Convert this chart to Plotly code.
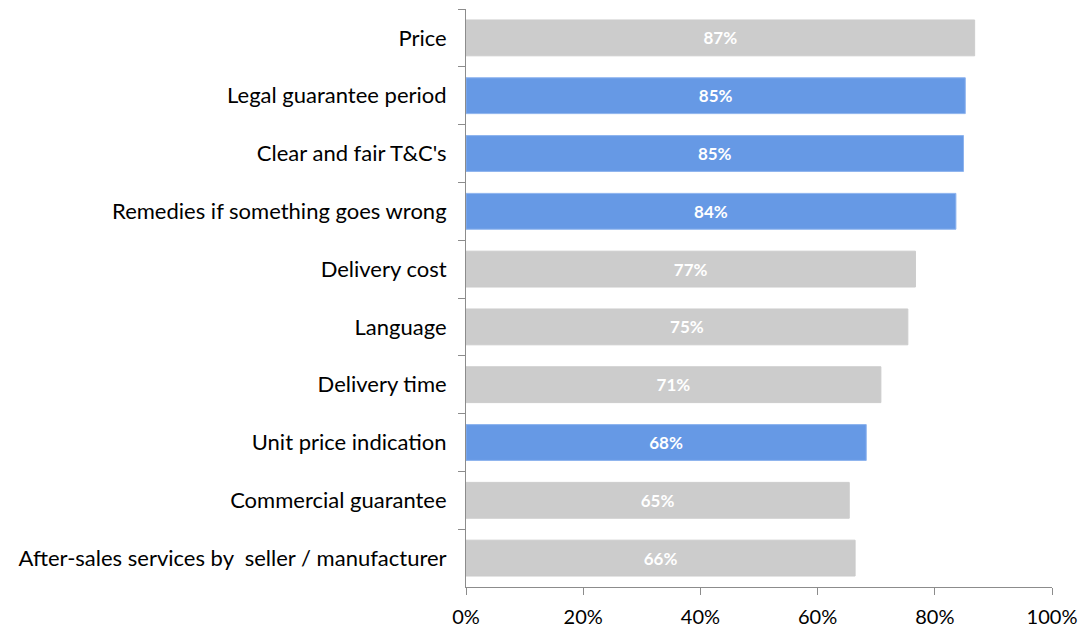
import plotly.graph_objects as go

categories = ["Price", "Legal guarantee period", "Clear and fair T&C's",
              "Remedies if something goes wrong", "Delivery cost", "Language",
              "Delivery time", "Unit price indication", "Commercial guarantee",
              "After-sales services by  seller / manufacturer"]
values = [0.868, 0.852, 0.849, 0.836, 0.767, 0.754, 0.708, 0.683, 0.654, 0.664]
highlight = [False, True, True, True, False, False, False, True, False, False]
x_ticks = [0, 0.2, 0.4, 0.6, 0.8, 1.0]
x_tick_labels = ["0%", "20%", "40%", "60%", "80%", "100%"]

GRAY = "#CCCCCC"
BLUE = "#6699E5"
colors = [BLUE if h else GRAY for h in highlight]
line_colors = ["#8DB3EE" if h else GRAY for h in highlight]

fig = go.Figure(go.Bar(
    x=values, y=categories, orientation="h",
    marker=dict(color=colors, line=dict(color=line_colors, width=1)),
    texttemplate="<b>%{x:.0%}</b>", textposition="inside",
    insidetextanchor="middle",
    textfont=dict(color="white", size=17, family="Lato"),
    width=0.62, hoverinfo="skip",
))

fig.update_layout(
    template="none",
    width=1084, height=628,
    margin=dict(l=466, r=32, t=9, b=41),
    plot_bgcolor="white", paper_bgcolor="white",
    font=dict(family="Lato", size=22, color="#000000"),
    showlegend=False,
)
fig.update_xaxes(
    automargin=False,
    range=[0, 1], tickvals=x_ticks, ticktext=x_tick_labels,
    showgrid=False, zeroline=False, showline=True, linecolor="#8C8C8C",
    linewidth=1, ticks="outside", ticklen=7, tickcolor="#8C8C8C",
    ticklabelstandoff=5, tickfont=dict(size=20),
)
fig.update_yaxes(
    automargin=False,
    categoryorder="array", categoryarray=categories, autorange="reversed",
    showgrid=False, zeroline=False, showline=True, linecolor="#8C8C8C",
    linewidth=1, ticks="outside", ticklen=7, tickcolor="#8C8C8C",
    tickson="boundaries", ticklabelstandoff=14, tickfont=dict(size=22),
)

fig.write_html("out.html", config={"displayModeBar": False},
               post_script="document.body.style.margin='0';document.body.style.overflow='hidden';")
